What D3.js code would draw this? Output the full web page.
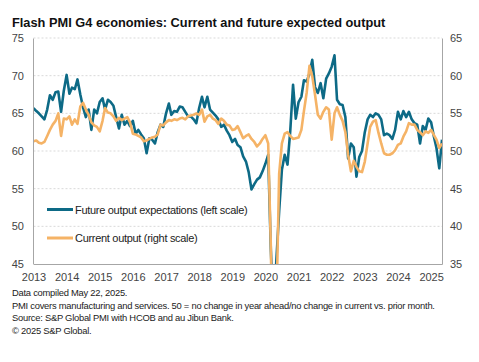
<!DOCTYPE html>
<html>
<head>
<meta charset="utf-8">
<script src="https://cdn.jsdelivr.net/npm/d3@7"></script>
<style>
  body { margin: 0; background: #fff; }
  svg { display: block; font-family: Arial, "Liberation Sans", sans-serif; }
</style>
</head>
<body>
<svg id="chart" width="479" height="362"></svg>
<script>
// monthly, Jan 2013 - May 2025
var futureOutput = [
  65.7, 65.3, 65.0, 64.6, 64.2, 65.5, 67.4, 66.8, 67.8, 67.9, 65.2, 68.0,
  70.1, 67.6, 68.4, 68.2, 69.5, 67.5, 65.8, 64.5, 65.5, 62.8, 65.5, 65.0,
  66.5, 67.0, 65.5, 66.8, 66.5, 66.0, 64.5, 63.0, 64.8, 63.5, 64.0, 63.3,
  64.0, 62.3, 62.8, 62.2, 61.7, 59.7, 61.7, 61.5, 61.0, 62.5, 63.5, 63.2,
  65.0, 66.3, 64.8, 65.3, 65.2, 65.9, 65.8, 65.2, 64.6, 64.6, 64.2, 63.7,
  65.7, 67.2, 65.8, 67.2, 65.5, 65.1, 64.7, 64.2, 63.2, 63.5, 62.7, 62.1,
  61.2, 61.6, 60.8, 60.5, 59.3, 58.6, 57.2, 54.9, 55.6, 56.2, 56.5, 57.3,
  58.3, 59.5, 47.0, 38.0, 45.5, 52.0, 57.5, 59.5, 58.2, 62.6, 68.8, 64.3,
  66.5, 67.2, 69.4, 69.2, 70.3, 72.1, 68.5, 67.7, 69.0, 67.0, 69.6, 70.3,
  71.2, 72.7, 66.8, 66.2, 66.1, 64.5, 59.0, 61.0, 60.5, 56.6, 59.2, 60.0,
  62.5, 64.2, 64.8, 64.5, 65.0, 64.8, 64.2, 62.1, 62.3, 62.1, 61.6, 62.8,
  65.2, 64.2, 65.3, 64.5, 65.2, 64.2, 63.7, 63.5, 61.0, 63.3, 62.8, 64.3,
  63.8, 61.9, 60.4, 57.7, 61.5
];

var currentOutput = [
  51.3, 51.4, 51.1, 51.0, 51.2, 52.0, 52.8, 53.5, 54.0, 55.0, 52.0, 54.3,
  54.2, 54.6, 53.5, 54.2, 53.6, 55.9, 56.4, 55.5, 54.8, 53.8, 53.4, 53.2,
  52.6, 54.0, 55.7, 55.1, 55.0, 54.6, 54.0, 54.4, 54.1, 54.3, 54.5, 53.8,
  52.3, 52.2, 52.0, 51.8, 51.3, 51.4, 51.6, 51.8, 51.9, 52.2, 53.5, 53.4,
  53.8, 54.1, 54.0, 54.2, 54.1, 54.3, 54.4, 54.2, 54.6, 54.7, 54.8, 55.0,
  54.8, 55.5, 53.9, 54.6, 54.8, 54.3, 54.1, 53.6, 54.3, 54.0, 53.5, 53.4,
  52.8, 52.9, 53.3, 52.5, 51.7, 52.0, 52.2, 51.6, 51.2, 50.6, 51.0, 51.6,
  52.1, 51.0, 37.5, 15.0, 29.0, 47.0, 51.0, 52.3, 52.5, 52.0, 51.6, 51.7,
  51.8, 52.8, 55.3, 57.8, 61.3, 59.9, 57.5, 54.8, 54.3, 55.2, 55.8, 55.5,
  51.5, 55.0, 55.8, 54.8, 54.0, 52.5, 49.5, 47.3, 48.7, 47.9, 47.3, 47.2,
  48.6, 51.0, 53.2, 53.9, 54.1, 52.4, 51.0, 49.7, 49.5, 49.5, 49.7, 50.1,
  50.8, 51.0, 51.9, 52.6, 53.7, 53.5, 53.5, 52.8, 52.5, 52.1, 52.6, 52.4,
  52.8, 52.1, 51.5, 50.4, 51.0
];

var years = [2013, 2014, 2015, 2016, 2017, 2018, 2019, 2020, 2021, 2022, 2023, 2024, 2025];
var leftTicks = [45, 50, 55, 60, 65, 70, 75];
var rightTicks = [35, 40, 45, 50, 55, 60, 65];

var seriesNames = ['Future output expectations (left scale)', 'Current output (right scale)'];
var seriesColors = ['#0d6a86', '#f5b366'];

var notes = [
  'Data compiled May 22, 2025.',
  'PMI covers manufacturing and services. 50 = no change in year ahead/no change in current vs. prior month.',
  'Source: S&P Global PMI with HCOB and au Jibun Bank.',
  '\u00a9 2025 S&P Global.'
];

var firstMonth = new Date(2013, 0, 1);
var monthDate = function (i) { return d3.timeMonth.offset(firstMonth, i); };

var plotLeft = 33.5, plotRight = 442, plotTop = 38, plotBottom = 264;

var svg = d3.select('#chart');

var x = d3.scaleTime()
  .domain([firstMonth, monthDate(futureOutput.length - 1)])
  .range([plotLeft, plotRight]);

var yLeft = d3.scaleLinear().domain([45, 75]).range([plotBottom, plotTop]);
var yRight = d3.scaleLinear().domain([35, 65]).range([plotBottom, plotTop]);

svg.append('text')
  .attr('x', 12)
  .attr('y', 26.5)
  .attr('font-size', 12.8)
  .attr('font-weight', 'bold')
  .attr('fill', '#111')
  .text('Flash PMI G4 economies: Current and future expected output');

// dotted gridlines
svg.append('g')
  .selectAll('line')
  .data(leftTicks.slice(1))
  .enter().append('line')
  .attr('x1', plotLeft)
  .attr('x2', plotRight)
  .attr('y1', function (d) { return yLeft(d); })
  .attr('y2', function (d) { return yLeft(d); })
  .attr('stroke', '#d9d9d9')
  .attr('stroke-width', 1)
  .attr('stroke-dasharray', '2,2');

svg.append('defs').append('clipPath')
  .attr('id', 'plotClip')
  .append('rect')
  .attr('x', plotLeft)
  .attr('y', plotTop)
  .attr('width', plotRight - plotLeft)
  .attr('height', plotBottom - plotTop);

var lineLeft = d3.line()
  .x(function (d, i) { return x(monthDate(i)); })
  .y(function (d) { return yLeft(d); });

var lineRight = d3.line()
  .x(function (d, i) { return x(monthDate(i)); })
  .y(function (d) { return yRight(d); });

var plot = svg.append('g').attr('clip-path', 'url(#plotClip)');

plot.append('path')
  .datum(futureOutput)
  .attr('d', lineLeft)
  .attr('fill', 'none')
  .attr('stroke', seriesColors[0])
  .attr('stroke-width', 2.6)
  .attr('stroke-linejoin', 'round');

plot.append('path')
  .datum(currentOutput)
  .attr('d', lineRight)
  .attr('fill', 'none')
  .attr('stroke', seriesColors[1])
  .attr('stroke-width', 2.6)
  .attr('stroke-linejoin', 'round');

// axes
var axisLeft = d3.axisLeft(yLeft).tickValues(leftTicks).tickSize(0).tickPadding(9);
var axisRight = d3.axisRight(yRight).tickValues(rightTicks).tickSize(0).tickPadding(8);
var axisBottom = d3.axisBottom(x)
  .tickValues(years.map(function (y) { return new Date(y, 0, 1); }))
  .tickFormat(d3.timeFormat('%Y'))
  .tickSize(0)
  .tickPadding(9);

var styleAxis = function (g) {
  g.select('.domain').attr('stroke', '#a6a6a6').attr('stroke-width', 1);
  g.selectAll('text').attr('font-size', 11).attr('fill', '#444')
    .attr('font-family', 'Arial, "Liberation Sans", sans-serif');
};

svg.append('g').attr('transform', 'translate(' + (plotLeft - 0.5) + ',0)').call(axisLeft).call(styleAxis);
svg.append('g').attr('transform', 'translate(' + plotRight + ',0)').call(axisRight).call(styleAxis);
svg.append('g').attr('transform', 'translate(0,' + plotBottom + ')').call(axisBottom).call(styleAxis);

// legend
var legend = svg.append('g');
seriesNames.forEach(function (name, i) {
  var ly = 209.5 + i * 28.5;
  legend.append('line')
    .attr('x1', 47).attr('x2', 73)
    .attr('y1', ly).attr('y2', ly)
    .attr('stroke', seriesColors[i])
    .attr('stroke-width', 3);
  legend.append('text')
    .attr('x', 75)
    .attr('y', ly + 4)
    .attr('font-size', 11)
    .attr('letter-spacing', -0.3)
    .attr('fill', '#222')
    .text(name);
});

svg.append('g')
  .selectAll('text')
  .data(notes)
  .enter().append('text')
  .attr('x', 12)
  .attr('y', function (d, i) { return 296 + i * 12.6; })
  .attr('font-size', 9.4)
  .attr('letter-spacing', -0.25)
  .attr('fill', '#222')
  .text(function (d) { return d; });
</script>
</body>
</html>
